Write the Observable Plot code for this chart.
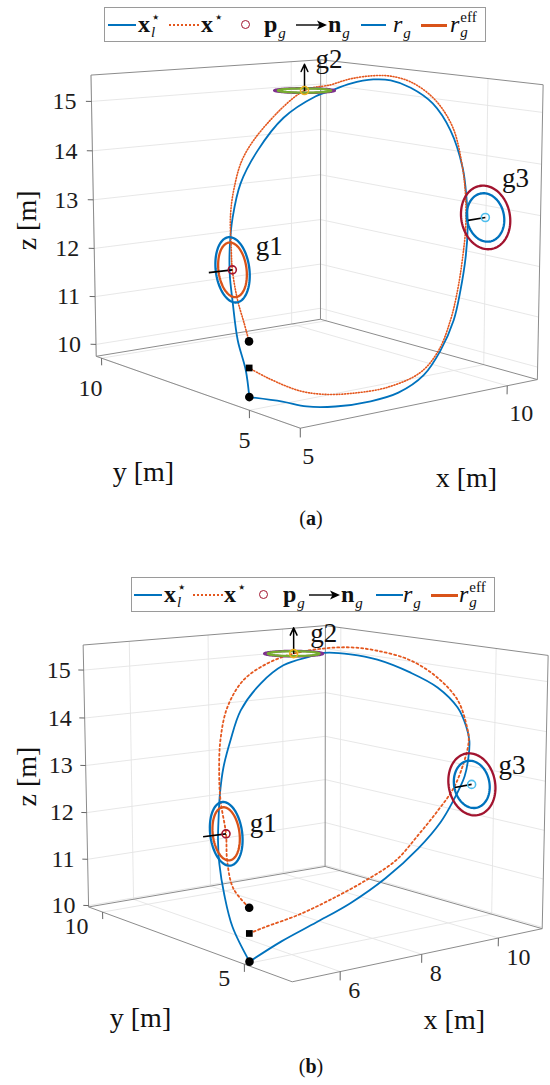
<!DOCTYPE html>
<html><head><meta charset="utf-8">
<script src="https://cdn.jsdelivr.net/npm/d3@7"></script>
<script src="https://cdn.jsdelivr.net/npm/@observablehq/plot@0.6"></script>
<style>
body{margin:0;background:#fff}
#page{position:relative;width:550px;height:1085px;overflow:hidden;font-family:"Liberation Serif",serif;color:#111}
.legend{position:absolute;box-sizing:border-box;height:35px;border:1px solid #9a9a9a;background:#fff}
.li{position:absolute;top:0;line-height:33px;font-size:24px;white-space:nowrap}
.ls{position:absolute;top:16px;height:2px}
.ld{position:absolute;top:16px;height:0;border-top:2px dotted #E4571E}
.lc{position:absolute;top:12px;width:7px;height:7px;border:1.6px solid #A2142F;border-radius:50%}
.la{position:absolute;top:11px}
.ss{position:relative;display:inline-block;height:1px}
.ss .u{position:absolute;left:1px;bottom:7px;font-size:15px;line-height:1}
.ss .d{position:absolute;left:1px;top:-6px;font-size:15px;line-height:1}
.sp{position:relative;top:-10px;font-size:15px;margin-left:1px}
.sb{position:relative;top:6px;font-size:15px;margin-left:1px}
.cap{position:absolute;font-size:20px;width:60px;text-align:center}
</style></head>
<body><div id="page"></div>
<script>
// ---------------- data (metres) ----------------
const limA = {x: [5, 10.8], y: [3.5, 10.2], z: [9.75, 15.53]};
const limB = {x: [4.88, 11.2], y: [3.52, 10.55], z: [9.97, 15.52]};
const xTicksA = [5, 10];
const xTicksB = [6, 8, 10];
const yTicks = [5, 10];
const zTicks = [10, 11, 12, 13, 14, 15];

// x_l* (solid) and x* (dotted), panel (a)
const pathLA = [
[5.00,5.00,10.00],[5.45,4.60,9.93],[5.77,4.30,9.85],[6.28,4.10,9.81],[7.03,4.00,9.81],
[7.70,4.00,9.87],[8.41,4.10,10.08],[9.01,4.30,10.44],[9.52,4.50,10.93],[9.87,4.70,11.44],
[10.18,4.90,12.03],[10.41,5.10,12.58],[10.46,5.20,13.17],[10.44,5.30,13.76],[10.20,5.40,14.51],
[9.82,5.50,15.06],[9.34,5.60,15.39],[8.92,5.70,15.55],[8.57,5.80,15.58],[8.09,5.90,15.52],
[7.69,6.00,15.40],[7.40,6.10,15.30],[6.72,6.20,14.93],[6.11,6.20,14.35],[5.64,6.10,13.78],
[5.38,6.00,13.17],[5.24,5.90,12.67],[5.16,5.80,12.17],[5.08,5.60,11.65],[5.04,5.40,10.99],
[5.07,5.20,10.46],[5.00,5.00,10.00]];
const pathA = [
[5.00,5.00,10.55],[5.29,4.80,10.35],[5.80,4.55,10.09],[6.26,4.40,9.98],[6.84,4.30,9.93],
[7.65,4.25,9.93],[8.51,4.30,10.08],[9.14,4.50,10.38],[9.62,4.70,10.88],[9.98,4.90,11.40],
[10.24,5.05,12.00],[10.45,5.20,12.57],[10.53,5.30,13.15],[10.53,5.40,13.74],[10.35,5.50,14.55],
[9.96,5.60,15.12],[9.45,5.70,15.48],[9.00,5.80,15.62],[8.66,5.90,15.64],[8.17,6.00,15.60],
[7.76,6.10,15.50],[7.14,6.10,15.43],[6.34,6.20,14.85],[5.78,6.20,14.25],[5.48,6.10,13.66],
[5.33,6.00,13.18],[5.27,5.90,12.67],[5.22,5.80,12.23],[5.19,5.60,11.69],[5.04,5.20,11.35],
[5.00,5.00,11.05]];
// panel (b)
const pathLB = [
[5.00,5.00,10.00],[5.74,4.98,10.28],[6.57,4.96,10.53],[7.39,4.94,10.79],[8.26,4.92,11.17],
[9.09,4.90,11.67],[9.67,4.90,12.13],[10.05,4.95,12.52],[10.39,5.00,12.97],[10.58,5.10,13.33],
[10.69,5.20,13.65],[10.69,5.30,13.93],[10.54,5.40,14.32],[10.08,5.50,14.76],[9.45,5.60,15.10],
[8.67,5.70,15.41],[8.07,5.80,15.55],[7.48,5.90,15.61],[7.23,6.00,15.55],[6.65,6.10,15.41],
[6.14,6.15,15.09],[5.63,6.10,14.62],[5.42,6.15,14.05],[5.23,6.12,13.55],[5.13,6.10,13.06],
[5.08,6.08,12.60],[5.04,6.05,12.16],[5.03,6.00,11.72],[5.00,5.80,11.14],[4.97,5.50,10.58],
[5.00,5.00,10.00]];
const pathB = [
[5.00,5.00,10.55],[5.33,5.00,10.61],[6.13,4.95,10.75],[6.87,4.90,10.95],[7.70,4.85,11.22],
[8.42,4.80,11.53],[8.96,4.75,11.99],[9.44,4.72,12.43],[9.82,4.70,12.83],[10.23,4.85,13.30],
[10.49,5.00,13.70],[10.57,5.15,13.96],[10.45,5.30,14.49],[10.03,5.45,14.97],[9.44,5.60,15.35],
[8.71,5.75,15.58],[8.11,5.85,15.68],[7.51,5.95,15.69],[6.90,6.10,15.62],[6.34,6.20,15.46],
[5.77,6.20,15.18],[5.32,6.10,14.71],[5.08,6.00,14.11],[5.01,5.95,13.48],[5.00,5.90,12.97],
[5.05,5.80,12.33],[4.93,5.60,11.86],[4.89,5.35,11.37],[5.00,5.00,11.05]];

// gates g1, g2, g3
const gateNames = ["g1", "g2", "g3"];
const gateCenterA = [[5.22,5.8,12.23],[7.14,6.1,15.43],[10.5,4.7,12.83]];
const gateCenterB = [[5.05,5.8,12.33],[6.90,6.1,15.62],[10.31,4.7,12.86]];
const gateNormal = [[-0.996,0.087,0],[0.015,0.02,1],[-0.995,-0.1,0]];
const gateRg = [0.61, 0.57, 0.63];
const gateReff = [0.51, 0.50, 0.48];
const normalLength = 0.5;
// start / end markers (dot, square, dot)
const markerPts = [[5,5,10],[5,5,10.55],[5,5,11.05]];

// ---------------- styling ----------------
const BLUE = "#0072BD", ORANGE = "#D95319", DOT = "#E4571E";
const outerCol = [BLUE, "#7E2F8E", "#A2142F"];
const innerCol = [ORANGE, "#77AC30", BLUE];
const centerCol = ["#A2142F", "#EDB120", "#4DBEEE"];
const FONT = "Liberation Serif";

// ---------------- 3-D perspective camera ----------------
function camera(lim, half, az, el, D, ox, oy) {
  const A = az * Math.PI / 180, E = el * Math.PI / 180;
  const d = [Math.cos(E) * Math.sin(A), -Math.cos(E) * Math.cos(A), Math.sin(E)];
  const r = [Math.cos(A), Math.sin(A), 0];
  const u = [d[1]*r[2]-d[2]*r[1], d[2]*r[0]-d[0]*r[2], d[0]*r[1]-d[1]*r[0]];
  const nz = (v, [a, b], h) => ((v - (a + b) / 2) / (b - a)) * 2 * h;
  return ([x, y, z]) => {
    const P = [nz(x, lim.x, half[0]), nz(y, lim.y, half[1]), nz(z, lim.z, half[2])];
    const dt = w => P[0]*w[0] + P[1]*w[1] + P[2]*w[2];
    const k = D / (D - dt(d));
    return [ox + k * dt(r), oy - k * dt(u)];
  };
}
const camA = camera(limA, [147, 175, 146], -37.5, 9.7, 2000, 311, 225);
const camB = camera(limB, [155, 175, 136], -37.5, 10.5, 2000, 310, 785);

const cross = (a, b) => [a[1]*b[2]-a[2]*b[1], a[2]*b[0]-a[0]*b[2], a[0]*b[1]-a[1]*b[0]];
const unit = a => { const l = Math.hypot(...a); return a.map(v => v / l); };
function ring(c, n, r, N = 96) {
  const nn = unit(n);
  const h = Math.abs(nn[2]) < 0.9 ? [0, 0, 1] : [1, 0, 0];
  const e1 = unit(cross(nn, h)), e2 = cross(nn, e1);
  return d3.range(N + 1).map(i => {
    const t = 2 * Math.PI * i / N;
    return [0, 1, 2].map(j => c[j] + r * (Math.cos(t) * e1[j] + Math.sin(t) * e2[j]));
  });
}

function drawPanel(o) {
  const P = o.cam;
  const [x0, x1] = o.lim.x, [y0, y1] = o.lim.y, [z0, z1] = o.lim.z;
  const seg = (a, b) => { const p = P(a), q = P(b); return {x1: p[0], y1: p[1], x2: q[0], y2: q[1]}; };
  const grid = [];
  for (const t of zTicks) grid.push(seg([x0,y1,t],[x1,y1,t]), seg([x1,y1,t],[x1,y0,t]));
  for (const t of o.xTicks) grid.push(seg([t,y1,z0],[t,y1,z1]), seg([t,y0,z0],[t,y1,z0]));
  for (const t of yTicks) grid.push(seg([x1,t,z0],[x1,t,z1]), seg([x0,t,z0],[x1,t,z0]));
  const box = [
    seg([x0,y0,z0],[x1,y0,z0]), seg([x0,y0,z0],[x0,y1,z0]), seg([x0,y1,z0],[x1,y1,z0]), seg([x1,y0,z0],[x1,y1,z0]),
    seg([x0,y1,z0],[x0,y1,z1]), seg([x1,y1,z0],[x1,y1,z1]), seg([x1,y0,z0],[x1,y0,z1]),
    seg([x0,y1,z1],[x1,y1,z1]), seg([x1,y1,z1],[x1,y0,z1])];
  const tks = [
    ...zTicks.map(t => seg([x0,y1,t],[x0-0.08,y1+0.08,t])),
    ...o.xTicks.map(t => seg([t,y0,z0],[t,y0,z0-0.17])),
    ...yTicks.map(t => seg([x0,t,z0],[x0,t,z0-0.15]))];
  const lab = (pts) => pts.map(([p, s]) => ({x: p[0], y: p[1], s}));
  const zLab = lab(zTicks.map(t => [P([x0,y1,t]), String(t)]));
  const xLab = lab(o.xTicks.map(t => [P([t,y0,z0]), String(t)]));
  const yLab = lab(yTicks.map(t => [P([x0,t,z0]), String(t)]));
  const L = {x1: "x1", y1: "y1", x2: "x2", y2: "y2"};
  const XY = {x: d => d[0], y: d => d[1]};
  const T = {text: "s", fontFamily: FONT, fill: "#1c1c1c"};
  const marks = [
    Plot.link(grid, {...L, stroke: "#e4e4e4", strokeWidth: 0.9}),
    Plot.link(box, {...L, stroke: "#8c8c8c", strokeWidth: 1}),
    Plot.link(tks, {...L, stroke: "#666", strokeWidth: 1}),
    Plot.text(zLab, {...T, x: "x", y: "y", textAnchor: "end", dx: o.zdx, fontSize: 24}),
    Plot.text(xLab, {...T, x: "x", y: "y", textAnchor: "start", dx: o.xlab[0], dy: o.xlab[1], fontSize: 24}),
    Plot.text(yLab, {...T, x: "x", y: "y", textAnchor: "end", dx: o.ylab[0], dy: o.ylab[1], fontSize: 24}),
    Plot.line(o.pathL.map(P), {...XY, curve: "catmull-rom", stroke: BLUE, strokeWidth: 1.8}),
    Plot.line(o.path.map(P), {...XY, curve: "catmull-rom", stroke: DOT, strokeWidth: o.dw, strokeDasharray: o.dash})
  ];
  o.gates.forEach((c, i) => {
    marks.push(Plot.line(ring(c, gateNormal[i], gateRg[i]).map(P), {...XY, stroke: outerCol[i], strokeWidth: 2.3}));
    marks.push(Plot.line(ring(c, gateNormal[i], gateReff[i]).map(P), {...XY, stroke: innerCol[i], strokeWidth: 2.3}));
  });
  o.gates.forEach((c, i) => {
    const nn = unit(gateNormal[i]);
    const e = P(c.map((v, j) => v + normalLength * nn[j])), s = P(c);
    const seg1 = [{x1: s[0], y1: s[1], x2: e[0], y2: e[1]}];
    if (i === 1) marks.push(Plot.arrow(seg1, {...L, stroke: "#000", strokeWidth: 1.5, headLength: 8, headAngle: 50}));
    else marks.push(Plot.link(seg1, {...L, stroke: "#000", strokeWidth: 1.6}));
    marks.push(Plot.dot([s], {...XY, r: 4, stroke: centerCol[i], strokeWidth: 1.6, fill: "none"}));
    marks.push(Plot.text([s], {...XY, text: () => gateNames[i], fontFamily: FONT, fontSize: 27, fill: "#111",
      textAnchor: "start", dx: o.glab[i][0], dy: o.glab[i][1] - 3}));
  });
  const mk = markerPts.map(P);
  marks.push(Plot.dot([mk[0], mk[2]], {...XY, r: 4.3, fill: "#000"}));
  marks.push(Plot.dot([mk[1]], {...XY, r: 3.8, symbol: "square", fill: "#000"}));
  const az = P([x0, y1, (z0 + z1) / 2]), ay = P([x0, (y0 + y1) / 2, z0]), ax = P([(x0 + x1) / 2, y0, z0]);
  marks.push(Plot.text([az], {...XY, text: () => "z [m]", fontFamily: FONT, fontSize: 28, fill: "#111", rotate: -90, dx: o.alab[0][0], dy: o.alab[0][1]}));
  marks.push(Plot.text([ay], {...XY, text: () => "y [m]", fontFamily: FONT, fontSize: 28, fill: "#111", dx: o.alab[1][0], dy: o.alab[1][1]}));
  marks.push(Plot.text([ax], {...XY, text: () => "x [m]", fontFamily: FONT, fontSize: 28, fill: "#111", dx: o.alab[2][0], dy: o.alab[2][1]}));
  const svg = Plot.plot({
    width: 550, height: o.h, margin: 0,
    x: {domain: [0, 550], range: [0, 550], axis: null},
    y: {domain: [o.top, o.top + o.h], range: [0, o.h], axis: null},
    style: {fontFamily: FONT, background: "transparent", overflow: "visible"},
    marks
  });
  svg.style.position = "absolute"; svg.style.left = "0px"; svg.style.top = o.top + "px";
  document.getElementById("page").appendChild(svg);
}

function legend(left, top, width, p) {
  const box = document.createElement("div");
  box.className = "legend";
  Object.assign(box.style, {left: left + "px", top: top + "px", width: width + "px"});
  box.innerHTML = `
  <div class="ls" style="left:${p[0]}px;width:${p[1]}px;background:${BLUE}"></div>
  <div class="li" style="left:${p[2]}px"><b>x</b><span class="ss" style="width:9px"><span class="u">⋆</span><span class="d"><i>l</i></span></span></div>
  <div class="ld" style="left:${p[3]}px;width:${p[4]}px"></div>
  <div class="li" style="left:${p[5]}px"><b>x</b><span class="sp">⋆</span></div>
  <div class="lc" style="left:${p[6] - 5}px"></div>
  <div class="li" style="left:${p[7]}px"><b>p</b><span class="sb"><i>g</i></span></div>
  <svg class="la" style="left:${p[8]}px" width="31" height="12"><line x1="0" y1="6" x2="25" y2="6" stroke="#000" stroke-width="1.4"/><path d="M31,6 L21,1.6 L23.5,6 L21,10.4Z" fill="#000"/></svg>
  <div class="li" style="left:${p[9]}px"><b>n</b><span class="sb"><i>g</i></span></div>
  <div class="ls" style="left:${p[10]}px;width:${p[11]}px;background:${BLUE}"></div>
  <div class="li" style="left:${p[12]}px"><i>r</i><span class="sb"><i>g</i></span></div>
  <div class="ls" style="left:${p[13]}px;width:${p[14]}px;height:2.5px;background:${ORANGE}"></div>
  <div class="li" style="left:${p[15]}px"><i>r</i><span class="ss" style="width:19px"><span class="u">eff</span><span class="d"><i>g</i></span></span></div>`;
  document.getElementById("page").appendChild(box);
}
function caption(txt, cx, cy) {
  const c = document.createElement("div");
  c.className = "cap";
  c.innerHTML = `(<b>${txt}</b>)`;
  Object.assign(c.style, {left: (cx - 30) + "px", top: (cy - 12) + "px"});
  document.getElementById("page").appendChild(c);
}

drawPanel({cam: camA, lim: limA, xTicks: xTicksA, pathL: pathLA, path: pathA, gates: gateCenterA,
  top: 45, h: 470, dash: "1,1.8", dw: 1.6, zdx: -15, xlab: [2, 28], ylab: [1, 30],
  glab: [[23.5, -20.5], [11, -28], [16.7, -36]],
  alab: [[-67, 3], [-47.6, 82.8], [42, 75]]});
drawPanel({cam: camB, lim: limB, xTicks: xTicksB, pathL: pathLB, path: pathB, gates: gateCenterB,
  top: 612, h: 440, dash: "2,2.8", dw: 1.8, zdx: -13, xlab: [8, 19], ylab: [-14, 14],
  glab: [[23.7, -7.3], [16.7, -17.3], [27, -16]],
  alab: [[-59, -1], [-42.7, 76.7], [31, 66.5]]});
legend(104, 7, 382, [3, 28, 33, 64, 30, 96, 141, 159, 191, 223, 256, 25, 288, 316, 26, 345]);
legend(131, 577, 364, [2, 28, 32, 61, 30, 92, 132, 151, 177, 209, 244, 27, 271, 299, 27, 327]);
caption("a", 311, 519);
caption("b", 311, 1067);
</script></body></html>
